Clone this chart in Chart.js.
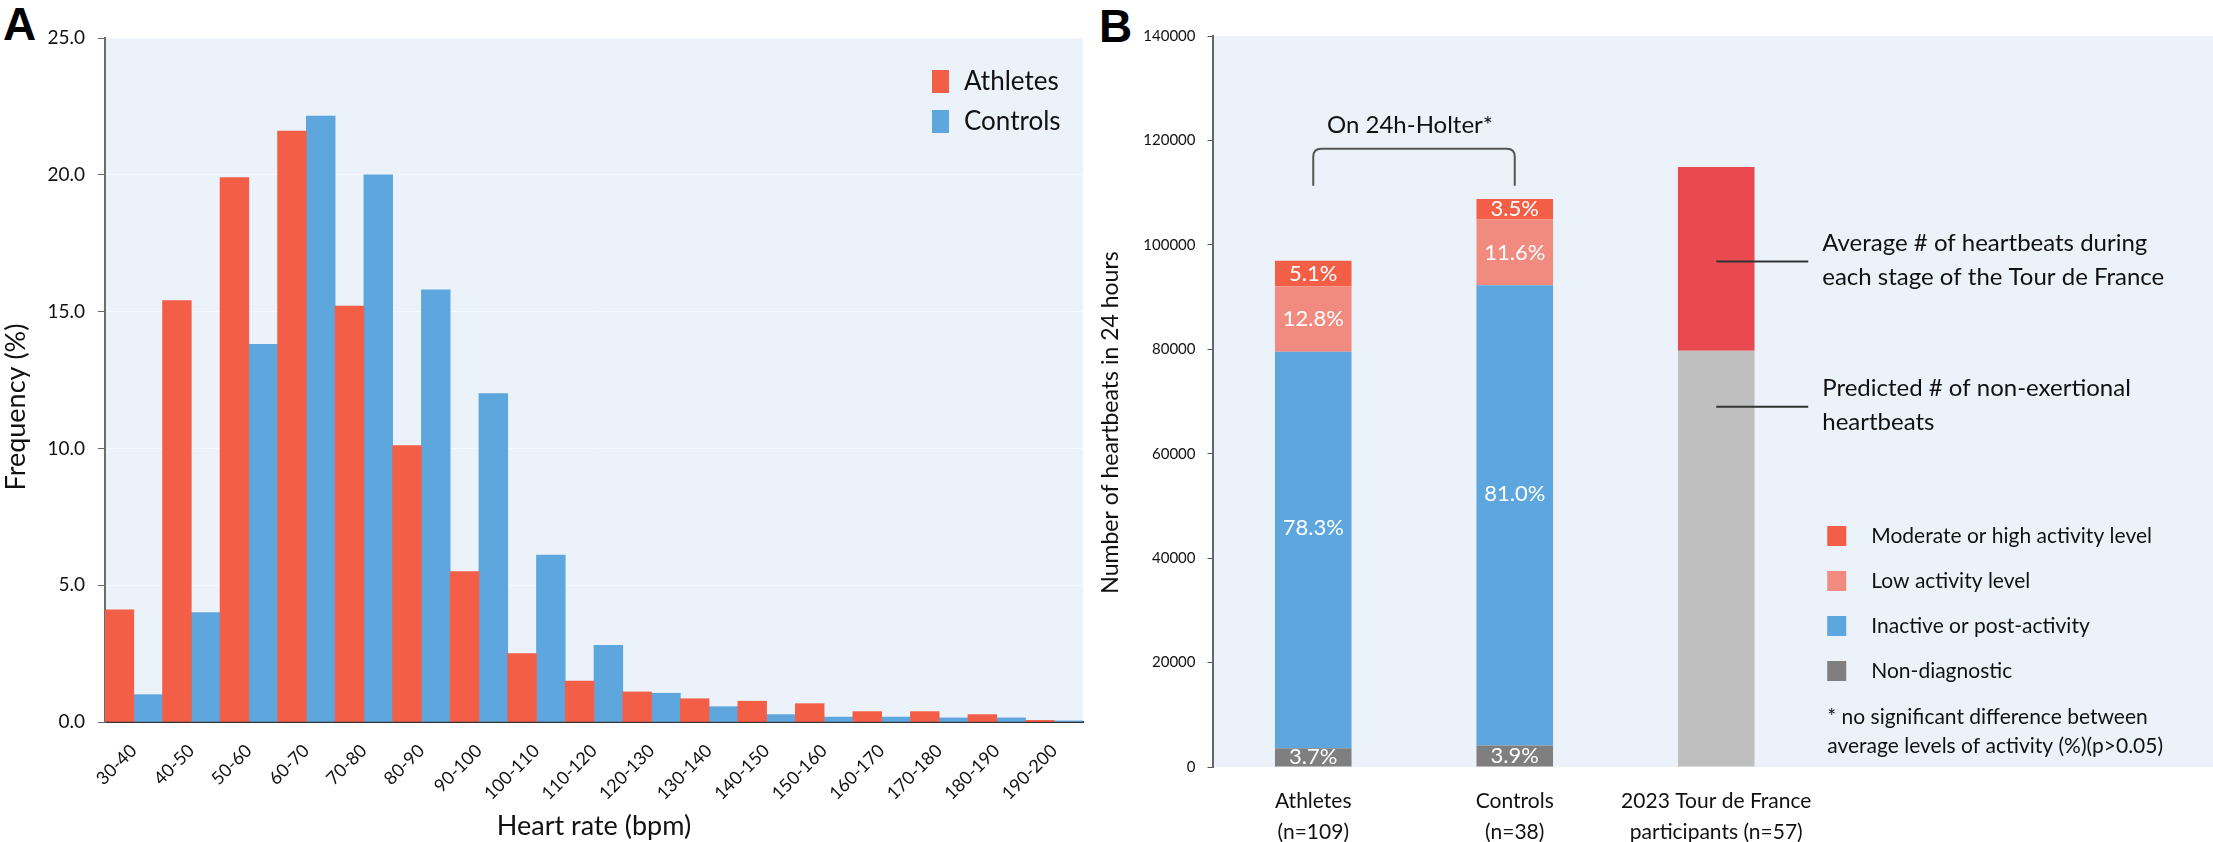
<!DOCTYPE html>
<html>
<head>
<meta charset="utf-8">
<script src="https://cdn.jsdelivr.net/npm/chart.js@4.4.1/dist/chart.umd.min.js"></script>
<style>
html, body { margin: 0; padding: 0; background: #fff; }
body { width: 2213px; height: 842px; overflow: hidden; position: relative; }
canvas { position: absolute; top: 0; }
#chartA { left: 0; }
#chartB { left: 1085px; }
.panel { position: absolute; font: bold 46px "Liberation Sans", Arial, sans-serif; color: #000; line-height: 1; }
</style>
</head>
<body>
<div class="panel" style="left:3px; top:1px;">A</div>
<div class="panel" style="left:1099px; top:3px;">B</div>
<canvas id="chartA" width="1100" height="842"></canvas>
<canvas id="chartB" width="1140" height="842"></canvas>
<script>
// Panel A - heart rate distribution
const hrBins = ['30-40', '40-50', '50-60', '60-70', '70-80', '80-90', '90-100', '100-110', '110-120',
    '120-130', '130-140', '140-150', '150-160', '160-170', '170-180', '180-190', '190-200'];
const athletesFreq = [4.1, 15.4, 19.9, 21.6, 15.2, 10.1, 5.5, 2.5, 1.5, 1.1, 0.85, 0.76, 0.67, 0.38, 0.38, 0.27, 0.06];
const controlsFreq = [1.0, 4.0, 13.8, 22.15, 20.0, 15.8, 12.0, 6.1, 2.8, 1.05, 0.56, 0.27, 0.18, 0.18, 0.15, 0.15, 0.04];
const freqTicks = [0, 5, 10, 15, 20, 25];

// Panel B - heartbeats in 24 hours
const groupLabels = [['Athletes', '(n=109)'], ['Controls', '(n=38)'], ['2023 Tour de France', 'participants (n=57)'], '', ''];
const nonDiagnostic = [3600, 4100, null];
const inactive = [75950, 88150, null];
const lowActivity = [12500, 12600, null];
const moderateHigh = [4900, 3950, null];
const tourPredicted = [null, null, 79700];
const tourAverage = [null, null, 35200];
const pctNonDiag = [3.7, 3.9];
const pctInactive = [78.3, 81.0];
const pctLow = [12.8, 11.6];
const pctModerate = [5.1, 3.5];
const beatTicks = [0, 20000, 40000, 60000, 80000, 100000, 120000, 140000];
const calloutValues = [96800, 69000];
const bracketValues = [118400, 111300];

const RED = '#F35E47';
const BLUE = '#5EA6DE';
const PINK = '#F28B7F';
const DARKGREY = '#7F7F7F';
const TOUR_RED = '#E84A50';
const TOUR_GREY = '#BFBFBF';
const PLOT_BG = '#ECF2FA';
const TEXT = '#111';
const FONT = 'Lato, "Open Sans", sans-serif';

Chart.defaults.font.family = FONT;
Chart.defaults.color = TEXT;

const plotBg = {
    id: 'plotBg',
    beforeDraw(chart) {
        const { ctx, chartArea: a } = chart;
        ctx.save();
        ctx.fillStyle = PLOT_BG;
        ctx.fillRect(a.left, a.top, a.right - a.left, a.bottom - a.top);
        ctx.restore();
    }
};

function rotatedTitle(ctx, text, x, y, size) {
    ctx.save();
    ctx.translate(x, y);
    ctx.rotate(-Math.PI / 2);
    ctx.font = size + 'px ' + FONT;
    ctx.fillStyle = TEXT;
    ctx.textAlign = 'center';
    ctx.textBaseline = 'middle';
    ctx.fillText(text, 0, 0);
    ctx.restore();
}

const extrasA = {
    id: 'extrasA',
    afterDraw(chart) {
        const { ctx, chartArea: a } = chart;
        rotatedTitle(ctx, 'Frequency (%)', a.left - 89, (a.top + a.bottom) / 2 + 27, 27);
        // legend inside plot
        const x0 = a.right - 151;
        chart.data.datasets.forEach((ds, i) => {
            const cy = a.top + 43 + i * 40;
            ctx.fillStyle = ds.backgroundColor;
            ctx.fillRect(x0, cy - 11, 17, 23);
            ctx.fillStyle = TEXT;
            ctx.font = '26px ' + FONT;
            ctx.textAlign = 'left';
            ctx.textBaseline = 'middle';
            ctx.fillText(ds.label, x0 + 32, cy + 1);
        });
    }
};

new Chart(document.getElementById('chartA'), {
    type: 'bar',
    data: {
        labels: hrBins,
        datasets: [
            { label: 'Athletes', data: athletesFreq, backgroundColor: RED },
            { label: 'Controls', data: controlsFreq, backgroundColor: BLUE }
        ]
    },
    options: {
        responsive: false,
        animation: false,
        layout: { padding: { left: 0, top: 38, right: 17, bottom: 0 } },
        datasets: { bar: { barPercentage: 1, categoryPercentage: 1 } },
        plugins: { legend: { display: false }, tooltip: { enabled: false } },
        scales: {
            x: {
                grid: { display: false },
                border: { color: '#333', width: 2 },
                ticks: { color: TEXT, font: { size: 18 }, minRotation: 45, maxRotation: 45, padding: 10, autoSkip: false },
                title: { display: true, text: 'Heart rate (bpm)', color: TEXT, font: { size: 27 }, padding: 0 },
                afterFit(s) { s.height = 120; }
            },
            y: {
                min: 0,
                max: 25,
                afterBuildTicks(s) { s.ticks = freqTicks.map(v => ({ value: v })); },
                ticks: { callback: v => v.toFixed(1), color: TEXT, font: { size: 19 }, padding: 13 },
                grid: { color: '#F5F8FC', tickColor: '#666', tickLength: 7 },
                border: { color: '#6b6b6b', width: 2 },
                afterFit(s) { s.width = 105; }
            }
        }
    },
    plugins: [plotBg, extrasA]
});

// Panel B
const pctByDataset = [pctNonDiag, pctInactive, pctLow, pctModerate, null, null];
const pctShift = [0, -22, 0, 0, 0, 0];

const barLabels = {
    id: 'barLabels',
    afterDatasetsDraw(chart) {
        const { ctx } = chart;
        ctx.save();
        ctx.fillStyle = '#fff';
        ctx.font = '22px ' + FONT;
        ctx.textAlign = 'center';
        ctx.textBaseline = 'middle';
        chart.data.datasets.forEach((ds, i) => {
            const pct = pctByDataset[i];
            if (!pct) return;
            chart.getDatasetMeta(i).data.forEach((bar, j) => {
                if (pct[j] == null) return;
                const { x, y, base } = bar.getProps(['x', 'y', 'base'], true);
                ctx.fillText(pct[j].toFixed(1) + '%', x, (y + base) / 2 + pctShift[i]);
            });
        });
        ctx.restore();
    }
};

const extrasB = {
    id: 'extrasB',
    afterDraw(chart) {
        const { ctx, chartArea: a, scales: { x, y } } = chart;
        rotatedTitle(ctx, 'Number of heartbeats in 24 hours', a.left - 102, (a.top + a.bottom) / 2 + 21, 23);

        // bracket over the Holter groups
        const bx1 = x.getPixelForValue(0), bx2 = x.getPixelForValue(1);
        const by = y.getPixelForValue(bracketValues[0]), byEnd = y.getPixelForValue(bracketValues[1]);
        const r = 8;
        ctx.save();
        ctx.strokeStyle = '#555';
        ctx.lineWidth = 2;
        ctx.beginPath();
        ctx.moveTo(bx1, byEnd);
        ctx.lineTo(bx1, by + r);
        ctx.quadraticCurveTo(bx1, by, bx1 + r, by);
        ctx.lineTo(bx2 - r, by);
        ctx.quadraticCurveTo(bx2, by, bx2, by + r);
        ctx.lineTo(bx2, byEnd);
        ctx.stroke();
        ctx.fillStyle = TEXT;
        ctx.font = '24px ' + FONT;
        ctx.textAlign = 'center';
        ctx.textBaseline = 'middle';
        ctx.fillText('On 24h-Holter*', (bx1 + bx2) / 2 - 4, by - 24);

        // callouts for the Tour de France bar
        const tx = x.getPixelForValue(2);
        const callouts = [
            ['Average # of heartbeats during', 'each stage of the Tour de France'],
            ['Predicted # of non-exertional', 'heartbeats']
        ];
        ctx.strokeStyle = '#333';
        ctx.textAlign = 'left';
        callouts.forEach((lines, k) => {
            const ly = y.getPixelForValue(calloutValues[k]);
            ctx.beginPath();
            ctx.moveTo(tx, ly);
            ctx.lineTo(tx + 92, ly);
            ctx.stroke();
            ctx.fillText(lines[0], tx + 106, ly - 18);
            ctx.fillText(lines[1], tx + 106, ly + 16);
        });

        // legend
        const order = [3, 2, 1, 0];
        const lx = tx + 111;
        ctx.font = '21px ' + FONT;
        order.forEach((di, k) => {
            const ds = chart.data.datasets[di];
            const cy = a.top + 500 + k * 45;
            ctx.fillStyle = ds.backgroundColor;
            ctx.fillRect(lx, cy - 10, 19, 20);
            ctx.fillStyle = TEXT;
            ctx.fillText(ds.label, lx + 44, cy);
        });
        ctx.fillText('* no significant difference between', lx, a.top + 681);
        ctx.fillText('average levels of activity (%)(p>0.05)', lx, a.top + 710);
        ctx.restore();
    }
};

new Chart(document.getElementById('chartB'), {
    type: 'bar',
    data: {
        labels: groupLabels,
        datasets: [
            { label: 'Non-diagnostic', data: nonDiagnostic, backgroundColor: DARKGREY },
            { label: 'Inactive or post-activity', data: inactive, backgroundColor: BLUE },
            { label: 'Low activity level', data: lowActivity, backgroundColor: PINK },
            { label: 'Moderate or high activity level', data: moderateHigh, backgroundColor: RED },
            { label: 'Predicted # of non-exertional heartbeats', data: tourPredicted, backgroundColor: TOUR_GREY },
            { label: 'Average # of heartbeats during each stage', data: tourAverage, backgroundColor: TOUR_RED }
        ]
    },
    options: {
        responsive: false,
        animation: false,
        layout: { padding: { left: 0, top: 36, right: 5, bottom: 0 } },
        datasets: { bar: { barPercentage: 0.38, categoryPercentage: 1 } },
        plugins: { legend: { display: false }, tooltip: { enabled: false } },
        scales: {
            x: {
                stacked: true,
                grid: { display: false },
                border: { display: false },
                ticks: { color: TEXT, font: { size: 21, lineHeight: 1.5 }, padding: 10, maxRotation: 0, autoSkip: false },
                afterFit(s) { s.height = 75; }
            },
            y: {
                stacked: true,
                min: 0,
                max: 140000,
                afterBuildTicks(s) { s.ticks = beatTicks.map(v => ({ value: v })); },
                ticks: { callback: v => String(v), color: TEXT, font: { size: 15 }, padding: 12 },
                grid: { drawOnChartArea: false, tickColor: '#555', tickLength: 5 },
                border: { color: '#666', width: 2 },
                afterFit(s) { s.width = 127.5; }
            }
        }
    },
    plugins: [plotBg, barLabels, extrasB]
});
</script>
</body>
</html>
